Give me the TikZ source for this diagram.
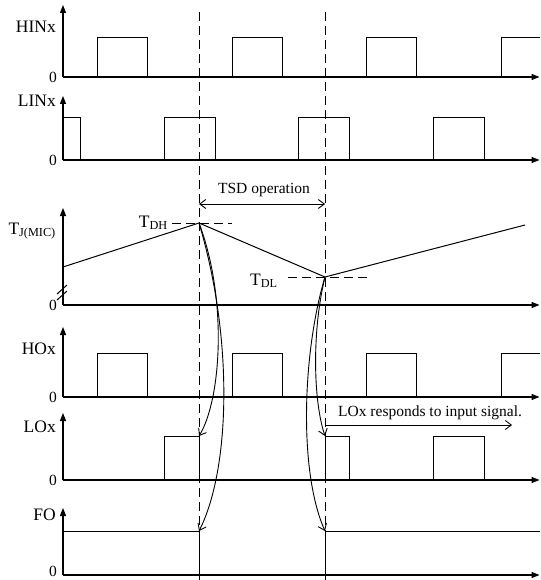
\documentclass[tikz,border=0pt]{standalone}
\usepackage{fontspec}
\setmainfont{Liberation Serif}
\usetikzlibrary{arrows.meta}

\tikzset{
    axis/.style={line width=1.1pt, -{Triangle[length=8pt,width=6pt]}},
    sig/.style={line width=1pt},
    guide/.style={line width=1pt, dash pattern=on 9pt off 5pt},
    cause/.style={line width=0.9pt, -{Straight Barb[length=6pt,width=9pt]}},
    span/.style={line width=0.9pt, {Straight Barb[length=6pt,width=9pt]}-{Straight Barb[length=6pt,width=9pt]}},
    lane/.style={font=\fontsize{17.5}{20}\selectfont, inner sep=1pt},
    note/.style={font=\fontsize{15.5}{18}\selectfont, inner sep=1pt},
}

\begin{document}
\begin{tikzpicture}[x=1pt, y=-1pt]
    \useasboundingbox (0,0) rectangle (540,580);

    \foreach \top/\base in {5/77, 96/160, 208/305, 327/397, 413/480, 508/575} {
        \draw[axis] (63,\base) -- (63,\top);
        \draw[axis] (63,\base) -- (539.5,\base);
    }
    \foreach \base in {77, 160, 305, 397, 480}
        \node[note, anchor=east] (zero\base) at (58,\base) {0};
    \node[note, anchor=south east, inner sep=0pt] (zero575) at (57,577) {0};

    \node[lane, anchor=east] (hin) at (57,27) {HINx};
    \node[lane, anchor=east] (lin) at (57,101) {LINx};
    \node[lane, anchor=east] (tj) at (57,231) {T\textsubscript{J(MIC)}};
    \node[lane, anchor=east] (ho) at (57,349) {HOx};
    \node[lane, anchor=east] (lo) at (57,427) {LOx};
    \node[lane, anchor=east] (fo) at (57,515) {FO};

    \draw[guide] (199,12) -- (199,580);
    \draw[guide] (325,12) -- (325,580);

    \foreach \x in {97,232,366}
        \draw[sig] (\x,77) |- (\x+50,38) -- (\x+50,77);
    \draw[sig] (501,77) |- (540,38);

    \draw[sig] (63,118) -| (80,160);
    \foreach \x in {164,298,433}
        \draw[sig] (\x,160) |- (\x+51,118) -- (\x+51,160);

    \draw[sig] (63,267) -- (199,223) coordinate (tdh) -- (325,277) coordinate (tdl) -- (525,225);
    \draw[guide] (172,223) -- (232,223);
    \draw[guide] (288,277) -- (370,277);
    \node[lane, anchor=base east] (tdhlabel) at (169,227) {T\textsubscript{DH}};
    \node[lane, anchor=base west] (tdllabel) at (249,285) {T\textsubscript{DL}};
    \draw[sig] (57,294) -- (67,285);
    \draw[sig] (57,300) -- (67,291);

    \coordinate (tsdstart) at (199,204);
    \coordinate (tsdend) at (325,204);
    \draw[span] (tsdstart) -- (tsdend);
    \node[note] (tsd) at (264,190) {TSD operation};

    \foreach \x in {97,232,366}
        \draw[sig] (\x,397) |- (\x+50,353) -- (\x+50,397);
    \draw[sig] (501,397) |- (540,353);

    \draw[sig] (164,480) |- (199,436) coordinate (looff) -- (199,480);
    \draw[sig] (325,480) |- (349,436) -- (349,480);
    \coordinate (loon) at (325,436);
    \draw[sig] (433,480) |- (484,436) -- (484,480);

    \draw[sig] (63,531) -| (199,575) -- (325,575) |- (540,531);
    \coordinate (fooff) at (199,531);
    \coordinate (foon) at (325,531);

    \draw[cause] (tdh) .. controls (228,300) and (221,400) .. (looff);
    \draw[cause] (tdh) .. controls (234,340) and (230,470) .. (fooff);
    \draw[cause] (tdl) .. controls (312,330) and (313,400) .. (loon);
    \draw[cause] (tdl) .. controls (303,350) and (298,470) .. (foon);

    \coordinate (respstart) at (325,425);
    \coordinate (respend) at (512,425);
    \draw[cause] (respstart) -- (respend);
    \node[note, anchor=base west] (resp) at (337,416) {LOx responds to input signal.};
\end{tikzpicture}
\end{document}
